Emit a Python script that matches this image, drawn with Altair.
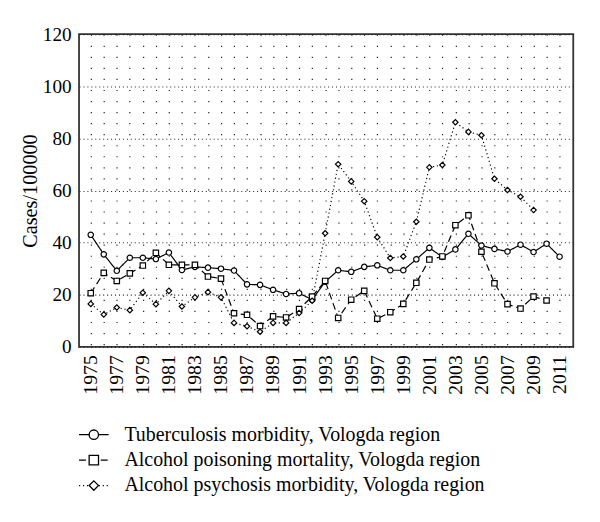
import altair as alt
import pandas as pd

years = list(range(1975, 2012))

tuberculosis = [43.0, 35.5, 29.2, 34.2, 34.2, 33.7, 36.2, 29.5, 30.7, 30.4,
                30.0, 29.3, 24.0, 23.8, 21.9, 20.3, 20.6, 18.1, 25.0, 29.4,
                28.8, 30.7, 31.3, 29.4, 29.4, 33.6, 38.0, 34.5, 37.4, 43.4,
                38.9, 37.6, 36.6, 39.2, 36.4, 39.6, 34.6]

poisoning = [20.6, 28.4, 25.3, 28.2, 31.2, 36.1, 31.5, 31.5, 31.5, 27.0,
             26.2, 12.9, 12.3, 8.0, 11.7, 11.3, 14.5, 19.3, 25.3, 11.1,
             18.1, 21.5, 10.8, 13.3, 16.5, 24.6, 33.5, 34.7, 46.7, 50.5,
             36.5, 24.4, 16.4, 14.7, 19.3, 17.8]

psychosis = [16.5, 12.4, 15.1, 14.1, 20.8, 16.4, 21.5, 15.5, 19.0, 21.0,
             19.0, 9.2, 7.9, 5.8, 9.2, 9.2, 13.0, 17.7, 43.6, 70.1,
             63.5, 55.9, 42.1, 34.1, 34.7, 48.0, 68.9, 69.8, 86.2, 82.5,
             81.2, 64.5, 60.2, 57.6, 52.5]

names = ["Tuberculosis morbidity, Vologda region",
         "Alcohol poisoning mortality, Vologda region",
         "Alcohol psychosis morbidity, Vologda region"]

y_ticks = [0, 20, 40, 60, 80, 100, 120]

dash_range = [[1, 0], [7, 4], [1.2, 2.8]]
shape_range = ["circle", "square", "diamond"]

rows = []
for name, vals in zip(names, [tuberculosis, poisoning, psychosis]):
    for yr, v in zip(years, vals):
        rows.append({"year": yr, "value": v, "series": name})
df = pd.DataFrame(rows)

FONT = "Liberation Serif"

x_enc = alt.X("year:Q",
              scale=alt.Scale(domain=[1974.1, 2012.05], nice=False, zero=False),
              axis=alt.Axis(values=years, labelExpr="datum.value % 2 == 1 ? datum.label : ''",
                            format="d", labelAngle=270, labelFont=FONT, labelFontSize=20,
                            labelColor="black", labelPadding=8, ticks=False, domain=False,
                            grid=True, gridColor="#222222", gridDash=[1.2, 10],
                            gridWidth=1.2, gridOpacity=1, title=None, labelOverlap=False))
y_enc = alt.Y("value:Q",
              scale=alt.Scale(domain=[0, 120], nice=False),
              axis=alt.Axis(values=y_ticks, labelFont=FONT, labelFontSize=19.5, labelColor="black",
                            labelPadding=8, ticks=False, domain=False, grid=True,
                            gridColor="#222222", gridDash=[1, 3], gridWidth=1.1, gridOpacity=1,
                            title="Cases/100000", titleFont=FONT, titleFontSize=20.5,
                            titleFontWeight="normal", titleColor="black", titlePadding=2))

base = alt.Chart(df).encode(x=x_enc, y=y_enc)

lines = base.mark_line(color="black", strokeWidth=1.2).encode(
    strokeDash=alt.StrokeDash("series:N", scale=alt.Scale(domain=names, range=dash_range), legend=None)
)
points = base.mark_point(filled=True, fill="white", stroke="black", strokeWidth=1.2,
                         size=30, opacity=1).encode(
    shape=alt.Shape("series:N", scale=alt.Scale(domain=names, range=shape_range), legend=None)
)

layers = [lines, points]
for i, name in enumerate(names):
    ld = pd.DataFrame({"series": [name]})
    yy = 406 + i * 25.8
    layers.append(alt.Chart(ld).mark_rule(color="black", strokeWidth=1.2,
                                           strokeDash=dash_range[i]).encode(
        x=alt.value(0), x2=alt.value(30), y=alt.value(yy)))
    layers.append(alt.Chart(ld).mark_point(shape=shape_range[i], size=90, filled=True,
                                            fill="white", stroke="black", strokeWidth=1.3,
                                            opacity=1).encode(
        x=alt.value(15), y=alt.value(yy)))
    layers.append(alt.Chart(ld).mark_text(align="left", baseline="middle", font=FONT,
                                           fontSize=20.2, color="black").encode(
        x=alt.value(46), y=alt.value(yy), text="series:N"))

chart = alt.layer(*layers).properties(
    width=501, height=317,
    padding={"left": 72, "top": 23, "right": 19, "bottom": 174},
    autosize=alt.AutoSizeParams(type="none"),
).configure_view(stroke="#333333", strokeWidth=1.8)

chart.save("out.html", embed_options={"renderer": "svg", "actions": False})
